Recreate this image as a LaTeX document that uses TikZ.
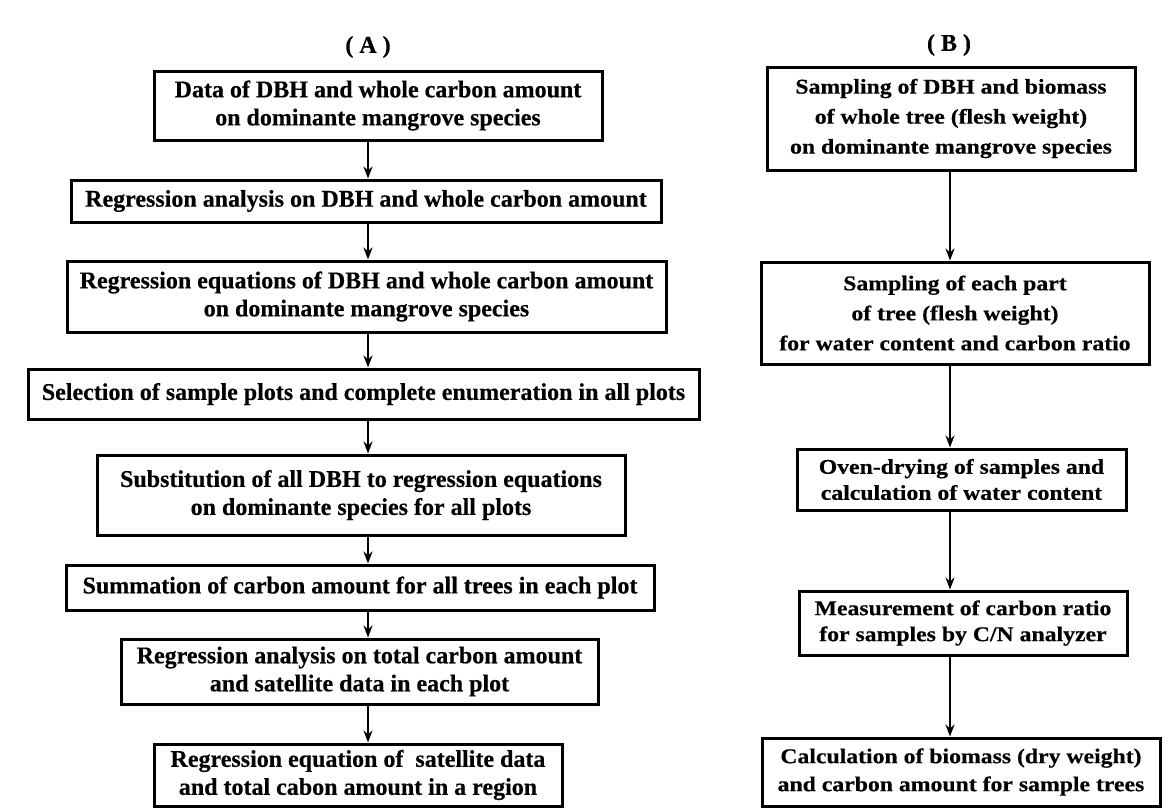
\documentclass[tikz,border=0pt]{standalone}
\usepackage{fontspec}
\setmainfont{Liberation Serif}[BoldFeatures={FakeBold=0.4}]
\newfontfamily\fbwide{Liberation Serif}[FakeStretch=1.13,BoldFeatures={FakeBold=0.4}]
\usetikzlibrary{arrows.meta}
\tikzset{
  abox/.style={draw, line width=3pt, inner sep=0pt, align=center,
    font=\fontsize{24}{28}\selectfont\bfseries},
  bbox/.style={draw, line width=3pt, inner sep=0pt, align=center,
    font=\fontsize{21}{30}\selectfont\fbwide\bfseries},
  flow/.style={line width=2.4pt, -{Stealth[length=12pt,width=9pt]}},
  ttl/.style={font=\fontsize{24}{28}\selectfont\bfseries}
}
\begin{document}
\begin{tikzpicture}[x=1pt,y=-1pt]
\useasboundingbox (0,0) rectangle (1176,809);
\fill[white] (0,0) rectangle (1176,809);

\node[ttl] (TA) at (368,47) {( A )};
\node[ttl] (TB) at (949,45) {( B )};

% column A
\node[abox, minimum width=448pt, minimum height=69pt] (A1) at (378,105.5)
  {Data of DBH and whole carbon amount\\on dominante mangrove species};
\node[abox, minimum width=590pt, minimum height=42pt] (A2) at (366,201)
  {Regression analysis on DBH and whole carbon amount};
\node[abox, minimum width=599pt, minimum height=71pt] (A3) at (366.5,296.5)
  {Regression equations of DBH and whole carbon amount\\on dominante mangrove species};
\node[abox, minimum width=671pt, minimum height=50pt] (A4) at (363.5,394)
  {Selection of sample plots and complete enumeration in all plots};
\node[abox, minimum width=528pt, minimum height=80pt] (A5) at (361,495)
  {Substitution of all DBH to regression equations\\on dominante species for all plots};
\node[abox, minimum width=588pt, minimum height=45pt] (A6) at (360,587.5)
  {Summation of carbon amount for all trees in each plot};
\node[abox, minimum width=477pt, minimum height=65pt] (A7) at (359.5,671.5)
  {Regression analysis on total carbon amount\\and satellite data in each plot};
\node[abox, minimum width=408pt, minimum height=62pt] (A8) at (358,775)
  {Regression equation of\ \ satellite data\\and total cabon amount in a region};

% column B
\node[bbox, minimum width=368pt, minimum height=103pt] (B1) at (951,118.5)
  {Sampling of DBH and biomass\\of whole tree (flesh weight)\\on dominante mangrove species};
\node[bbox, minimum width=388pt, minimum height=102pt] (B2) at (955,313)
  {Sampling of each part\\of tree (flesh weight)\\for water content and carbon ratio};
\node[bbox, minimum width=329pt, minimum height=61pt] (B3) at (961.5,479.5)
  {Oven-drying of samples and\\[-4pt]calculation of water content};
\node[bbox, minimum width=328pt, minimum height=64pt] (B4) at (963,623)
  {Measurement of carbon ratio\\[-4pt]for samples by C/N analyzer};
\node[bbox, minimum width=398pt, minimum height=68pt] (B5) at (961,772)
  {Calculation of biomass (dry weight)\\[-2pt]and carbon amount for sample trees};

\coordinate (ax) at (368,0);
\coordinate (bx) at (950,0);
\foreach \a/\b in {A1/A2,A2/A3,A3/A4,A4/A5,A5/A6,A6/A7,A7/A8}
  \draw[flow] (\a.south -| ax) -- (\b.north -| ax);
\foreach \a/\b in {B1/B2,B2/B3,B3/B4,B4/B5}
  \draw[flow] (\a.south -| bx) -- (\b.north -| bx);
\end{tikzpicture}
\end{document}
